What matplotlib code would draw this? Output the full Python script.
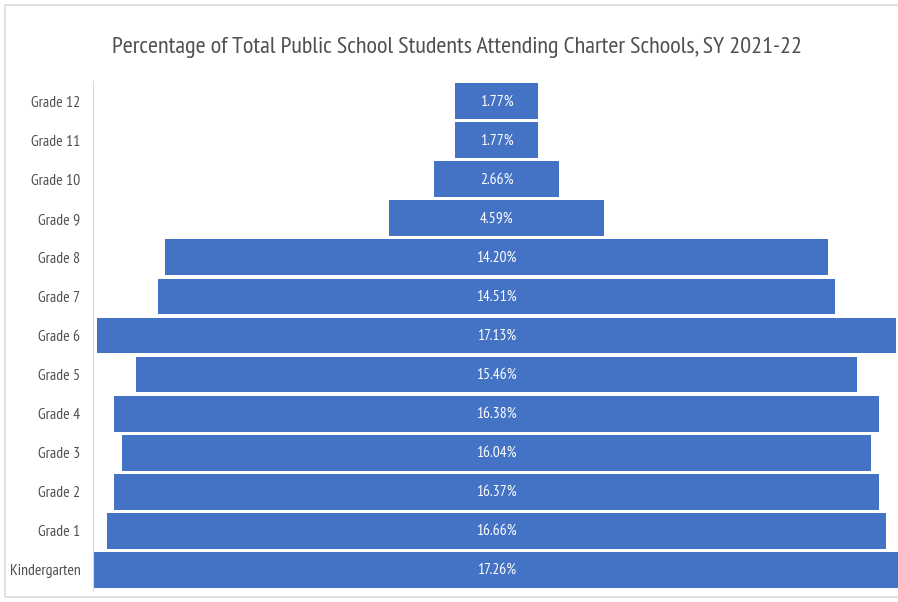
import matplotlib
matplotlib.use("Agg")
import matplotlib.pyplot as plt
from matplotlib.patches import Rectangle
from matplotlib import font_manager

grades = ["Kindergarten", "Grade 1", "Grade 2", "Grade 3", "Grade 4", "Grade 5",
          "Grade 6", "Grade 7", "Grade 8", "Grade 9", "Grade 10", "Grade 11", "Grade 12"]
values = [17.26, 16.66, 16.37, 16.04, 16.38, 15.46, 17.13, 14.51, 14.20, 4.59, 2.66, 1.77, 1.77]
title = "Percentage of Total Public School Students Attending Charter Schools, SY 2021-22"

fonts = font_manager.fontManager.ttflist
def has_regular(name):
    return any(f.name == name and f.weight in (400, "normal", "regular") and f.style == "normal"
               for f in fonts)
fam = "DejaVu Sans"
for cand in ["PT Sans Narrow", "Fira Sans Condensed", "Open Sans Condensed", "Carlito"]:
    if has_regular(cand):
        fam = cand
        break
plt.rcParams['font.family'] = [fam, 'DejaVu Sans']
plt.rcParams['font.weight'] = 'normal'

W, H = 898, 602
fig = plt.figure(figsize=(W/100, H/100), dpi=100)
fig.patch.set_facecolor("white")
fig.patches.append(Rectangle((5/W, 5/H), 1.2, (597-5)/H, transform=fig.transFigure,
                             fill=False, edgecolor="#d9d9d9", linewidth=1.2))
renderer = fig.canvas.get_renderer()

def fit_size(s, target_px, base=12.0):
    t = fig.text(0, 0, s, fontsize=base)
    w = t.get_window_extent(renderer).width
    t.remove()
    return base * target_px / w

title_fs = fit_size(title, 690)
label_fs = fit_size("Kindergarten", 71)
data_fs = fit_size("1.77%", 33)

ax_left, ax_right, ax_top, ax_bot = 93, 898, 81, 590
ax = fig.add_axes([ax_left/W, 1-ax_bot/H, (ax_right-ax_left)/W, (ax_bot-ax_top)/H])
scale = 46.7
center = 496.5
ax.set_xlim(-(center-ax_left)/scale, (ax_right-center)/scale)
y = list(range(len(grades)))
lefts = [-v/2 for v in values]
ax.barh(y, values, left=lefts, height=0.92, color="#4472C4")
for yi, v in zip(y, values):
    ax.text(0, yi, f"{v:.2f}%", ha="center", va="center", color="white", fontsize=data_fs)
ax.set_ylim(-0.52, len(grades)-0.48)
ax.set_yticks(y)
ax.set_yticklabels(grades, fontsize=label_fs, color="#505050")
ax.tick_params(axis="y", length=0, pad=9)
ax.set_xticks([])
for s in ["top", "right", "bottom"]:
    ax.spines[s].set_visible(False)
ax.spines["left"].set_color("#d9d9d9")
fig.text(457/W, 1-47/H, title, ha="center", va="center", fontsize=title_fs, color="#505050")
fig.savefig("out.png", dpi=100)
